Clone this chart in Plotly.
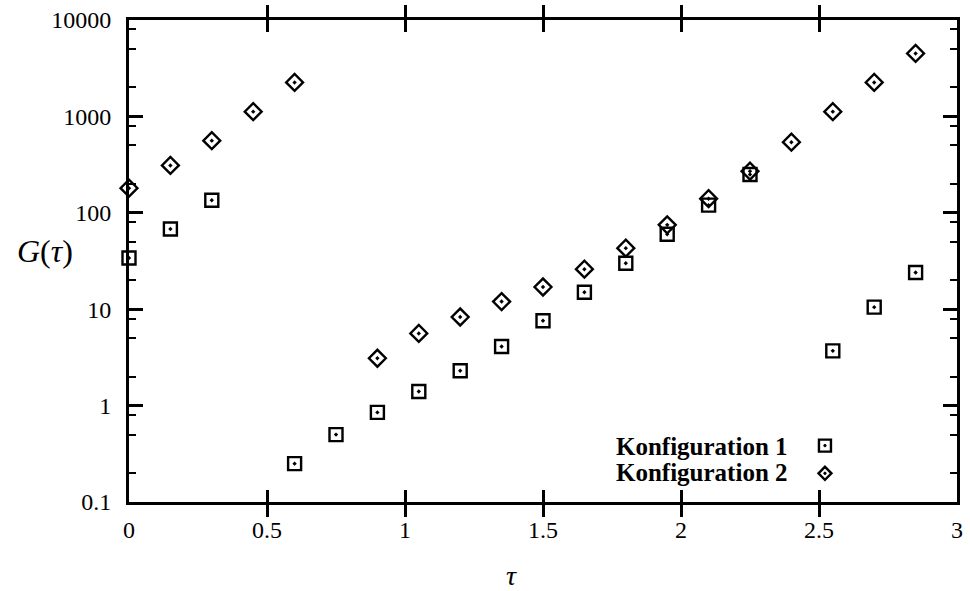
import plotly.graph_objects as go

# ---- data ----
tau1 = [0.0, 0.15, 0.30, 0.60, 0.75, 0.90, 1.05, 1.20, 1.35, 1.50, 1.65, 1.80, 1.95, 2.10, 2.25, 2.55, 2.70, 2.85]
g1 = [34, 68, 135, 0.25, 0.50, 0.85, 1.4, 2.3, 4.1, 7.6, 15, 30, 60, 120, 250, 3.7, 10.5, 24]

tau2 = [0.0, 0.15, 0.30, 0.45, 0.60, 0.90, 1.05, 1.20, 1.35, 1.50, 1.65, 1.80, 1.95, 2.10, 2.25, 2.40, 2.55, 2.70, 2.85]
g2 = [180, 310, 560, 1120, 2250, 3.1, 5.6, 8.3, 12, 17, 26, 43, 75, 140, 270, 540, 1120, 2250, 4500]

xticks = [0, 0.5, 1, 1.5, 2, 2.5, 3]
xticklabels = ["0", "0.5", "1", "1.5", "2", "2.5", "3"]
yticks = [0.1, 1, 10, 100, 1000, 10000]
yticklabels = ["0.1", "1", "10", "100", "1000", "10000"]
yminor = [m * d for d in [0.1, 1, 10, 100, 1000] for m in (2, 5, 8)]

names = ["Konfiguration 1", "Konfiguration 2"]

# ---- layout constants ----
W, H = 970, 591
ML, MR, MT, MB = 129, 7, 15, 89
PW = W - ML - MR
PH = H - MT - MB
FONT = "Liberation Serif, Times New Roman, serif"

def px_x(p):
    return (p - ML) / PW

def px_y(p):
    return (H - MB - p) / PH

fig = go.Figure()
# invisible carrier traces so the overlaid tick-only axes get drawn
fig.add_trace(go.Scatter(
    x=tau1, y=g1, mode="markers", xaxis="x2", yaxis="y2", showlegend=False, hoverinfo="skip",
    marker=dict(size=1, opacity=0),
))
fig.add_trace(go.Scatter(
    x=tau1, y=g1, mode="markers", xaxis="x", yaxis="y3", showlegend=False, hoverinfo="skip",
    marker=dict(size=1, opacity=0),
))
fig.add_trace(go.Scatter(
    x=tau1, y=g1, mode="markers", name=names[0], cliponaxis=False,
    marker=dict(symbol="square-open-dot", size=13, color="black", line=dict(width=2.4, color="black")),
))
fig.add_trace(go.Scatter(
    x=tau2, y=g2, mode="markers", name=names[1], cliponaxis=False,
    marker=dict(symbol="diamond-open-dot", size=13, color="black", line=dict(width=2.4, color="black")),
))

axline = dict(showline=True, linewidth=3, linecolor="black", mirror="allticks",
              showgrid=False, zeroline=False, tickcolor="black")

fig.update_layout(
    width=W, height=H,
    margin=dict(l=ML, r=MR, t=MT, b=MB),
    paper_bgcolor="white", plot_bgcolor="white",
    showlegend=False,
    font=dict(family=FONT, size=24, color="black"),
    xaxis=dict(
        range=[0, 3], tickmode="array", tickvals=xticks, ticktext=xticklabels,
        ticks="inside", ticklen=12, tickwidth=3,
        tickfont=dict(family=FONT, size=24, color="black"),
        ticklabelstandoff=4, **axline,
    ),
    xaxis2=dict(
        range=[0, 3], overlaying="x", side="top", anchor="y",
        tickmode="array", tickvals=xticks, showticklabels=False,
        ticks="inside", ticklen=12, tickwidth=3, **axline,
    ),
    yaxis=dict(
        type="log", range=[-1, 4], tickmode="array", tickvals=yticks, ticktext=yticklabels,
        ticks="inside", ticklen=14, tickwidth=3,
        tickfont=dict(family=FONT, size=24, color="black"),
        ticklabelstandoff=10, **axline,
    ),
    # minor ticks (2, 5, 8 per decade)
    yaxis2=dict(
        type="log", range=[-1, 4], overlaying="y", anchor="x2", side="right",
        tickmode="array", tickvals=yminor, showticklabels=False,
        ticks="inside", ticklen=7, tickwidth=2.2, **axline,
    ),
    # major y ticks again from the right-hand side
    yaxis3=dict(
        type="log", range=[-1, 4], overlaying="y", anchor="x", side="right",
        tickmode="array", tickvals=yticks, showticklabels=False,
        ticks="inside", ticklen=14, tickwidth=3, **axline,
    ),
)

# axis titles
fig.add_annotation(text="<i>G</i>(<i>τ</i>)", xref="paper", yref="paper",
                   x=px_x(44), y=px_y(248), showarrow=False,
                   xanchor="center", yanchor="middle",
                   font=dict(family=FONT, size=32, color="black"))
fig.add_annotation(text="<i>τ</i>", xref="paper", yref="paper",
                   x=px_x(514), y=px_y(576), showarrow=False,
                   xanchor="center", yanchor="middle",
                   font=dict(family=FONT, size=28, color="black"))

# legend (text right, symbol after text)
leg_rows = [(446, names[0]), (472, names[1])]
for yy, nm in leg_rows:
    fig.add_annotation(text="<b>" + nm + "</b>", xref="paper", yref="paper",
                       x=px_x(795), y=px_y(yy), showarrow=False,
                       xanchor="right", yanchor="middle",
                       font=dict(family=FONT, size=25, color="black"))

sx = px_x(830)
fig.add_shape(type="rect", xref="paper", yref="paper", xsizemode="pixel", ysizemode="pixel",
              xanchor=sx, yanchor=px_y(445), x0=-6, x1=6, y0=-6, y1=6,
              line=dict(color="black", width=2.4), fillcolor="rgba(0,0,0,0)")
fig.add_shape(type="path", xref="paper", yref="paper", xsizemode="pixel", ysizemode="pixel",
              xanchor=sx, yanchor=px_y(473), path="M -6.5 0 L 0 6.5 L 6.5 0 L 0 -6.5 Z",
              line=dict(color="black", width=2.4), fillcolor="rgba(0,0,0,0)")
for yy in (445, 473):
    fig.add_shape(type="circle", xref="paper", yref="paper", xsizemode="pixel", ysizemode="pixel",
                  xanchor=sx, yanchor=px_y(yy), x0=-1.2, x1=1.2, y0=-1.2, y1=1.2,
                  line=dict(color="black", width=1), fillcolor="black")

fig.write_html("out.html")
